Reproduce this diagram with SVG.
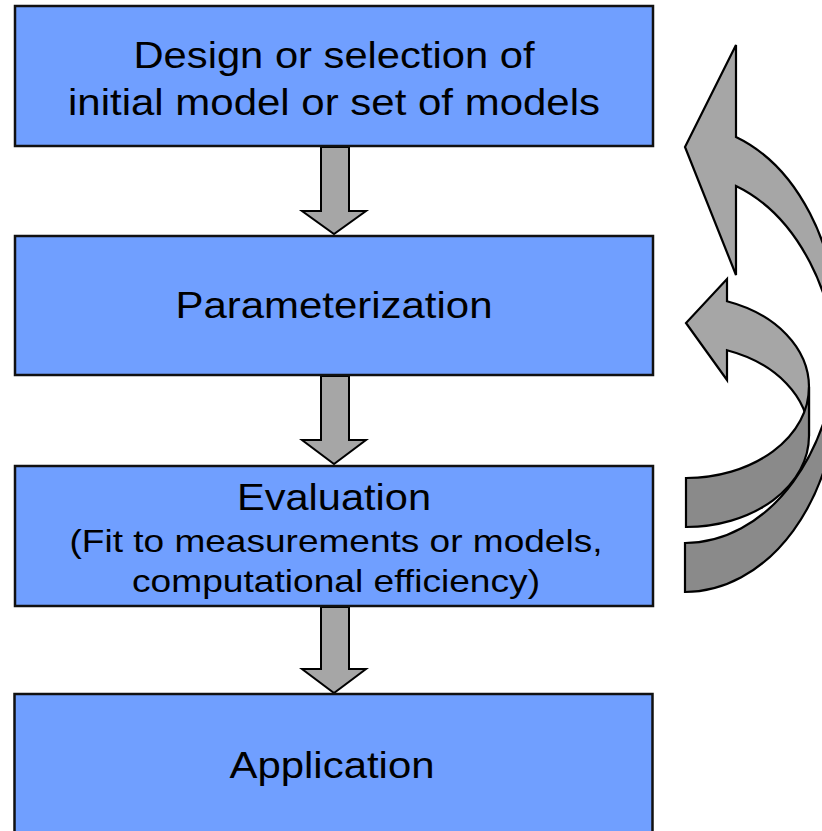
<svg xmlns="http://www.w3.org/2000/svg" width="822" height="831" viewBox="0 0 822 831">
  <style>
    .box { fill: #709fff; stroke: #111; stroke-width: 2.5; }
    .lbl { font-family: "Liberation Sans", Arial, sans-serif; fill: #000; text-anchor: middle; }
    .big { font-size: 36px; }
    .sub { font-size: 32px; }
    .flow { fill: #a6a6a6; stroke: #000; stroke-width: 2; stroke-linejoin: miter; }
    .lite { fill: #a6a6a6; stroke: #000; stroke-width: 2.2; stroke-linejoin: miter; }
    .dark { fill: #8a8a8a; stroke: #000; stroke-width: 2.2; stroke-linejoin: miter; }
  </style>

  <!-- straight down arrows between the steps -->
  <g id="connectors">
    <path class="flow" d="M321 147 L349 147 L349 211 L366 211 L334 234 L302 211 L321 211 Z"/>
    <path class="flow" d="M321 376 L349 376 L349 440 L366 440 L334 464 L302 440 L321 440 Z"/>
    <path class="flow" d="M321 607 L349 607 L349 669 L366 669 L334 693 L302 669 L321 669 Z"/>

    <!-- large curved feedback arrow: Evaluation back to model design -->
    <g id="loop-outer">
      <path class="lite" d="M736 137 A153 209 0 0 1 838 334 L838 383 A153 209 0 0 0 736 186 L736 275 L685 147 L736 45 Z"/>
      <path class="dark" d="M685 543 A153 209 0 0 0 838 334 L838 383 A153 209 0 0 1 685 592 Z"/>
    </g>

    <!-- small curved feedback arrow: Evaluation back to parameterization -->
    <g id="loop-inner">
      <path class="lite" d="M727 301.2 A123 91 0 0 1 809 387 L809 436 A123 91 0 0 0 727 350.2 L727 380 L686 323 L727 279 Z"/>
      <path class="dark" d="M686 478 A123 91 0 0 0 809 387 L809 436 A123 91 0 0 1 686 527 Z"/>
    </g>
  </g>

  <g id="design">
    <rect class="box" x="15" y="6" width="638" height="140"/>
    <text class="lbl big" x="334" y="68" textLength="401" lengthAdjust="spacingAndGlyphs">Design or selection of</text>
    <text class="lbl big" x="334" y="115" textLength="532" lengthAdjust="spacingAndGlyphs">initial model or set of models</text>
  </g>

  <g id="parameterization">
    <rect class="box" x="15" y="236" width="638" height="139"/>
    <text class="lbl big" x="334" y="318" textLength="317" lengthAdjust="spacingAndGlyphs">Parameterization</text>
  </g>

  <g id="evaluation">
    <rect class="box" x="15" y="466" width="638" height="140"/>
    <text class="lbl big" x="334" y="510" textLength="194" lengthAdjust="spacingAndGlyphs">Evaluation</text>
    <text class="lbl sub" x="336" y="552" textLength="533" lengthAdjust="spacingAndGlyphs">(Fit to measurements or models,</text>
    <text class="lbl sub" x="336" y="592" textLength="408" lengthAdjust="spacingAndGlyphs">computational efficiency)</text>
  </g>

  <g id="application">
    <rect class="box" x="14.5" y="694" width="638" height="150"/>
    <text class="lbl big" x="332" y="778" textLength="205" lengthAdjust="spacingAndGlyphs">Application</text>
  </g>
</svg>
